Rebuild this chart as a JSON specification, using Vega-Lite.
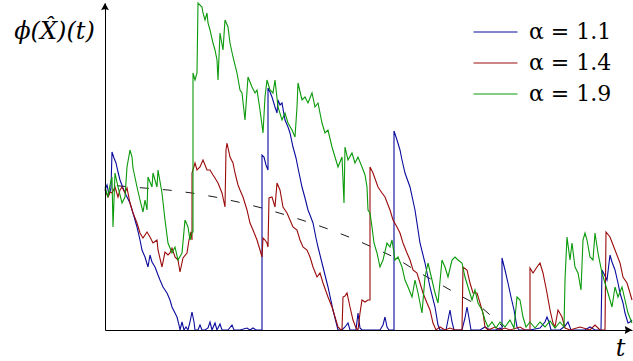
{
  "$schema": "https://vega.github.io/schema/vega-lite/v6.json",
  "width": 527,
  "height": 327,
  "autosize": {"type": "none"},
  "padding": {"left": 105, "top": 3, "right": 1, "bottom": 31},
  "background": "white",
  "config": {"view": {"stroke": null}},
  "datasets": {
    "paths": [
      {"alpha":"1.1","t":0,"v":140},{"alpha":"1.1","t":2,"v":145},{"alpha":"1.1","t":4,"v":135},{"alpha":"1.1","t":6,"v":142},{"alpha":"1.1","t":7,"v":178},{"alpha":"1.1","t":9,"v":172},{"alpha":"1.1","t":11,"v":167},{"alpha":"1.1","t":13,"v":158},{"alpha":"1.1","t":15,"v":150},{"alpha":"1.1","t":18,"v":142},{"alpha":"1.1","t":21,"v":135},{"alpha":"1.1","t":25,"v":127},{"alpha":"1.1","t":28,"v":117},{"alpha":"1.1","t":32,"v":103},{"alpha":"1.1","t":35,"v":90},{"alpha":"1.1","t":37,"v":80},{"alpha":"1.1","t":40,"v":73},{"alpha":"1.1","t":43,"v":63},{"alpha":"1.1","t":45,"v":75},{"alpha":"1.1","t":47,"v":68},{"alpha":"1.1","t":50,"v":63},{"alpha":"1.1","t":53,"v":55},{"alpha":"1.1","t":55,"v":50},{"alpha":"1.1","t":58,"v":43},{"alpha":"1.1","t":62,"v":37},{"alpha":"1.1","t":65,"v":30},{"alpha":"1.1","t":67,"v":23},{"alpha":"1.1","t":70,"v":17},{"alpha":"1.1","t":72,"v":13},{"alpha":"1.1","t":74,"v":5},{"alpha":"1.1","t":75,"v":0},{"alpha":"1.1","t":77,"v":8},{"alpha":"1.1","t":79,"v":0},{"alpha":"1.1","t":81,"v":3},{"alpha":"1.1","t":83,"v":0},{"alpha":"1.1","t":85,"v":8},{"alpha":"1.1","t":87,"v":18},{"alpha":"1.1","t":89,"v":8},{"alpha":"1.1","t":90,"v":0},{"alpha":"1.1","t":93,"v":0},{"alpha":"1.1","t":95,"v":5},{"alpha":"1.1","t":97,"v":0},{"alpha":"1.1","t":100,"v":0},{"alpha":"1.1","t":103,"v":2},{"alpha":"1.1","t":105,"v":8},{"alpha":"1.1","t":107,"v":0},{"alpha":"1.1","t":110,"v":7},{"alpha":"1.1","t":112,"v":0},{"alpha":"1.1","t":115,"v":6},{"alpha":"1.1","t":117,"v":0},{"alpha":"1.1","t":123,"v":0},{"alpha":"1.1","t":127,"v":5},{"alpha":"1.1","t":129,"v":0},{"alpha":"1.1","t":135,"v":0},{"alpha":"1.1","t":142,"v":2},{"alpha":"1.1","t":145,"v":0},{"alpha":"1.1","t":148,"v":2},{"alpha":"1.1","t":151,"v":0},{"alpha":"1.1","t":157,"v":0},{"alpha":"1.1","t":157,"v":175},{"alpha":"1.1","t":159,"v":173},{"alpha":"1.1","t":161,"v":165},{"alpha":"1.1","t":163,"v":160},{"alpha":"1.1","t":163,"v":242},{"alpha":"1.1","t":165,"v":238},{"alpha":"1.1","t":167,"v":233},{"alpha":"1.1","t":170,"v":223},{"alpha":"1.1","t":172,"v":217},{"alpha":"1.1","t":173,"v":230},{"alpha":"1.1","t":175,"v":225},{"alpha":"1.1","t":177,"v":227},{"alpha":"1.1","t":180,"v":210},{"alpha":"1.1","t":183,"v":203},{"alpha":"1.1","t":185,"v":197},{"alpha":"1.1","t":188,"v":183},{"alpha":"1.1","t":191,"v":172},{"alpha":"1.1","t":193,"v":162},{"alpha":"1.1","t":197,"v":143},{"alpha":"1.1","t":200,"v":132},{"alpha":"1.1","t":203,"v":120},{"alpha":"1.1","t":205,"v":115},{"alpha":"1.1","t":208,"v":107},{"alpha":"1.1","t":211,"v":92},{"alpha":"1.1","t":213,"v":83},{"alpha":"1.1","t":218,"v":63},{"alpha":"1.1","t":223,"v":43},{"alpha":"1.1","t":228,"v":20},{"alpha":"1.1","t":231,"v":8},{"alpha":"1.1","t":233,"v":0},{"alpha":"1.1","t":237,"v":0},{"alpha":"1.1","t":240,"v":3},{"alpha":"1.1","t":243,"v":7},{"alpha":"1.1","t":245,"v":0},{"alpha":"1.1","t":251,"v":0},{"alpha":"1.1","t":253,"v":17},{"alpha":"1.1","t":255,"v":2},{"alpha":"1.1","t":257,"v":0},{"alpha":"1.1","t":275,"v":0},{"alpha":"1.1","t":278,"v":5},{"alpha":"1.1","t":280,"v":13},{"alpha":"1.1","t":282,"v":3},{"alpha":"1.1","t":284,"v":0},{"alpha":"1.1","t":289,"v":0},{"alpha":"1.1","t":289,"v":199},{"alpha":"1.1","t":292,"v":190},{"alpha":"1.1","t":295,"v":180},{"alpha":"1.1","t":297,"v":170},{"alpha":"1.1","t":300,"v":157},{"alpha":"1.1","t":305,"v":143},{"alpha":"1.1","t":310,"v":120},{"alpha":"1.1","t":315,"v":87},{"alpha":"1.1","t":320,"v":67},{"alpha":"1.1","t":325,"v":43},{"alpha":"1.1","t":330,"v":23},{"alpha":"1.1","t":333,"v":5},{"alpha":"1.1","t":335,"v":0},{"alpha":"1.1","t":341,"v":0},{"alpha":"1.1","t":343,"v":10},{"alpha":"1.1","t":345,"v":20},{"alpha":"1.1","t":347,"v":8},{"alpha":"1.1","t":349,"v":0},{"alpha":"1.1","t":357,"v":0},{"alpha":"1.1","t":360,"v":12},{"alpha":"1.1","t":362,"v":23},{"alpha":"1.1","t":364,"v":12},{"alpha":"1.1","t":366,"v":0},{"alpha":"1.1","t":375,"v":0},{"alpha":"1.1","t":380,"v":3},{"alpha":"1.1","t":385,"v":0},{"alpha":"1.1","t":391,"v":0},{"alpha":"1.1","t":395,"v":2},{"alpha":"1.1","t":397,"v":0},{"alpha":"1.1","t":397,"v":72},{"alpha":"1.1","t":400,"v":60},{"alpha":"1.1","t":403,"v":47},{"alpha":"1.1","t":406,"v":33},{"alpha":"1.1","t":409,"v":20},{"alpha":"1.1","t":412,"v":3},{"alpha":"1.1","t":414,"v":0},{"alpha":"1.1","t":425,"v":0},{"alpha":"1.1","t":435,"v":2},{"alpha":"1.1","t":440,"v":8},{"alpha":"1.1","t":442,"v":13},{"alpha":"1.1","t":444,"v":8},{"alpha":"1.1","t":446,"v":0},{"alpha":"1.1","t":455,"v":0},{"alpha":"1.1","t":460,"v":4},{"alpha":"1.1","t":463,"v":8},{"alpha":"1.1","t":466,"v":0},{"alpha":"1.1","t":480,"v":0},{"alpha":"1.1","t":485,"v":3},{"alpha":"1.1","t":490,"v":0},{"alpha":"1.1","t":496,"v":0},{"alpha":"1.1","t":497,"v":60},{"alpha":"1.1","t":500,"v":54},{"alpha":"1.1","t":502,"v":50},{"alpha":"1.1","t":505,"v":75},{"alpha":"1.1","t":507,"v":68},{"alpha":"1.1","t":510,"v":60},{"alpha":"1.1","t":513,"v":47},{"alpha":"1.1","t":515,"v":37},{"alpha":"1.1","t":518,"v":27},{"alpha":"1.1","t":520,"v":17},{"alpha":"1.1","t":523,"v":7},{"alpha":"1.1","t":525,"v":8},{"alpha":"1.1","t":527,"v":10},

      {"alpha":"1.4","t":0,"v":140},{"alpha":"1.4","t":3,"v":133},{"alpha":"1.4","t":5,"v":138},{"alpha":"1.4","t":7,"v":137},{"alpha":"1.4","t":10,"v":143},{"alpha":"1.4","t":13,"v":133},{"alpha":"1.4","t":15,"v":140},{"alpha":"1.4","t":17,"v":143},{"alpha":"1.4","t":20,"v":137},{"alpha":"1.4","t":22,"v":142},{"alpha":"1.4","t":25,"v":127},{"alpha":"1.4","t":28,"v":117},{"alpha":"1.4","t":32,"v":107},{"alpha":"1.4","t":35,"v":97},{"alpha":"1.4","t":38,"v":92},{"alpha":"1.4","t":42,"v":98},{"alpha":"1.4","t":45,"v":93},{"alpha":"1.4","t":48,"v":87},{"alpha":"1.4","t":52,"v":90},{"alpha":"1.4","t":53,"v":80},{"alpha":"1.4","t":57,"v":63},{"alpha":"1.4","t":60,"v":78},{"alpha":"1.4","t":63,"v":75},{"alpha":"1.4","t":65,"v":77},{"alpha":"1.4","t":67,"v":82},{"alpha":"1.4","t":70,"v":73},{"alpha":"1.4","t":73,"v":70},{"alpha":"1.4","t":75,"v":58},{"alpha":"1.4","t":78,"v":72},{"alpha":"1.4","t":82,"v":77},{"alpha":"1.4","t":84,"v":90},{"alpha":"1.4","t":86,"v":98},{"alpha":"1.4","t":87,"v":90},{"alpha":"1.4","t":87,"v":157},{"alpha":"1.4","t":90,"v":167},{"alpha":"1.4","t":92,"v":160},{"alpha":"1.4","t":95,"v":163},{"alpha":"1.4","t":98,"v":170},{"alpha":"1.4","t":100,"v":165},{"alpha":"1.4","t":102,"v":160},{"alpha":"1.4","t":105,"v":160},{"alpha":"1.4","t":108,"v":155},{"alpha":"1.4","t":110,"v":152},{"alpha":"1.4","t":113,"v":147},{"alpha":"1.4","t":117,"v":137},{"alpha":"1.4","t":120,"v":123},{"alpha":"1.4","t":121,"v":180},{"alpha":"1.4","t":122,"v":187},{"alpha":"1.4","t":125,"v":173},{"alpha":"1.4","t":128,"v":167},{"alpha":"1.4","t":130,"v":157},{"alpha":"1.4","t":133,"v":145},{"alpha":"1.4","t":135,"v":140},{"alpha":"1.4","t":138,"v":133},{"alpha":"1.4","t":142,"v":120},{"alpha":"1.4","t":145,"v":107},{"alpha":"1.4","t":148,"v":100},{"alpha":"1.4","t":152,"v":90},{"alpha":"1.4","t":155,"v":80},{"alpha":"1.4","t":157,"v":73},{"alpha":"1.4","t":158,"v":92},{"alpha":"1.4","t":160,"v":90},{"alpha":"1.4","t":162,"v":87},{"alpha":"1.4","t":163,"v":83},{"alpha":"1.4","t":164,"v":132},{"alpha":"1.4","t":167,"v":133},{"alpha":"1.4","t":170,"v":123},{"alpha":"1.4","t":172,"v":147},{"alpha":"1.4","t":175,"v":140},{"alpha":"1.4","t":178,"v":123},{"alpha":"1.4","t":182,"v":117},{"alpha":"1.4","t":185,"v":110},{"alpha":"1.4","t":188,"v":103},{"alpha":"1.4","t":192,"v":100},{"alpha":"1.4","t":195,"v":90},{"alpha":"1.4","t":198,"v":83},{"alpha":"1.4","t":202,"v":80},{"alpha":"1.4","t":205,"v":73},{"alpha":"1.4","t":208,"v":63},{"alpha":"1.4","t":212,"v":53},{"alpha":"1.4","t":215,"v":57},{"alpha":"1.4","t":218,"v":47},{"alpha":"1.4","t":223,"v":33},{"alpha":"1.4","t":227,"v":23},{"alpha":"1.4","t":230,"v":13},{"alpha":"1.4","t":233,"v":3},{"alpha":"1.4","t":236,"v":0},{"alpha":"1.4","t":237,"v":0},{"alpha":"1.4","t":238,"v":33},{"alpha":"1.4","t":240,"v":34},{"alpha":"1.4","t":242,"v":37},{"alpha":"1.4","t":245,"v":23},{"alpha":"1.4","t":248,"v":10},{"alpha":"1.4","t":251,"v":2},{"alpha":"1.4","t":253,"v":0},{"alpha":"1.4","t":255,"v":17},{"alpha":"1.4","t":257,"v":30},{"alpha":"1.4","t":260,"v":28},{"alpha":"1.4","t":263,"v":30},{"alpha":"1.4","t":265,"v":30},{"alpha":"1.4","t":265,"v":163},{"alpha":"1.4","t":268,"v":157},{"alpha":"1.4","t":273,"v":143},{"alpha":"1.4","t":277,"v":137},{"alpha":"1.4","t":280,"v":133},{"alpha":"1.4","t":285,"v":120},{"alpha":"1.4","t":288,"v":110},{"alpha":"1.4","t":292,"v":103},{"alpha":"1.4","t":295,"v":97},{"alpha":"1.4","t":298,"v":87},{"alpha":"1.4","t":302,"v":77},{"alpha":"1.4","t":305,"v":70},{"alpha":"1.4","t":308,"v":60},{"alpha":"1.4","t":312,"v":57},{"alpha":"1.4","t":315,"v":47},{"alpha":"1.4","t":318,"v":37},{"alpha":"1.4","t":322,"v":27},{"alpha":"1.4","t":325,"v":20},{"alpha":"1.4","t":328,"v":7},{"alpha":"1.4","t":331,"v":0},{"alpha":"1.4","t":335,"v":3},{"alpha":"1.4","t":340,"v":0},{"alpha":"1.4","t":345,"v":2},{"alpha":"1.4","t":350,"v":0},{"alpha":"1.4","t":357,"v":0},{"alpha":"1.4","t":358,"v":63},{"alpha":"1.4","t":362,"v":60},{"alpha":"1.4","t":365,"v":47},{"alpha":"1.4","t":368,"v":37},{"alpha":"1.4","t":372,"v":37},{"alpha":"1.4","t":375,"v":27},{"alpha":"1.4","t":378,"v":17},{"alpha":"1.4","t":380,"v":3},{"alpha":"1.4","t":383,"v":0},{"alpha":"1.4","t":390,"v":3},{"alpha":"1.4","t":395,"v":0},{"alpha":"1.4","t":400,"v":2},{"alpha":"1.4","t":405,"v":0},{"alpha":"1.4","t":415,"v":3},{"alpha":"1.4","t":420,"v":0},{"alpha":"1.4","t":425,"v":0},{"alpha":"1.4","t":425,"v":62},{"alpha":"1.4","t":428,"v":57},{"alpha":"1.4","t":432,"v":63},{"alpha":"1.4","t":435,"v":67},{"alpha":"1.4","t":438,"v":57},{"alpha":"1.4","t":442,"v":37},{"alpha":"1.4","t":445,"v":20},{"alpha":"1.4","t":448,"v":7},{"alpha":"1.4","t":450,"v":3},{"alpha":"1.4","t":453,"v":20},{"alpha":"1.4","t":457,"v":13},{"alpha":"1.4","t":460,"v":2},{"alpha":"1.4","t":465,"v":0},{"alpha":"1.4","t":475,"v":3},{"alpha":"1.4","t":485,"v":0},{"alpha":"1.4","t":490,"v":5},{"alpha":"1.4","t":495,"v":0},{"alpha":"1.4","t":500,"v":0},{"alpha":"1.4","t":501,"v":98},{"alpha":"1.4","t":505,"v":93},{"alpha":"1.4","t":510,"v":80},{"alpha":"1.4","t":515,"v":67},{"alpha":"1.4","t":518,"v":53},{"alpha":"1.4","t":522,"v":47},{"alpha":"1.4","t":525,"v":37},{"alpha":"1.4","t":527,"v":30},

      {"alpha":"1.9","t":0,"v":143},{"alpha":"1.9","t":3,"v":133},{"alpha":"1.9","t":5,"v":145},{"alpha":"1.9","t":7,"v":153},{"alpha":"1.9","t":8,"v":103},{"alpha":"1.9","t":10,"v":157},{"alpha":"1.9","t":13,"v":143},{"alpha":"1.9","t":17,"v":127},{"alpha":"1.9","t":20,"v":133},{"alpha":"1.9","t":22,"v":163},{"alpha":"1.9","t":25,"v":180},{"alpha":"1.9","t":27,"v":173},{"alpha":"1.9","t":28,"v":162},{"alpha":"1.9","t":32,"v":143},{"alpha":"1.9","t":35,"v":130},{"alpha":"1.9","t":38,"v":118},{"alpha":"1.9","t":40,"v":130},{"alpha":"1.9","t":42,"v":120},{"alpha":"1.9","t":43,"v":153},{"alpha":"1.9","t":47,"v":143},{"alpha":"1.9","t":48,"v":157},{"alpha":"1.9","t":52,"v":143},{"alpha":"1.9","t":53,"v":160},{"alpha":"1.9","t":57,"v":137},{"alpha":"1.9","t":60,"v":110},{"alpha":"1.9","t":63,"v":87},{"alpha":"1.9","t":67,"v":77},{"alpha":"1.9","t":70,"v":83},{"alpha":"1.9","t":73,"v":70},{"alpha":"1.9","t":77,"v":77},{"alpha":"1.9","t":80,"v":110},{"alpha":"1.9","t":83,"v":103},{"alpha":"1.9","t":85,"v":90},{"alpha":"1.9","t":87,"v":98},{"alpha":"1.9","t":88,"v":98},{"alpha":"1.9","t":88,"v":257},{"alpha":"1.9","t":90,"v":250},{"alpha":"1.9","t":92,"v":257},{"alpha":"1.9","t":93,"v":327},{"alpha":"1.9","t":97,"v":323},{"alpha":"1.9","t":98,"v":317},{"alpha":"1.9","t":100,"v":310},{"alpha":"1.9","t":102,"v":317},{"alpha":"1.9","t":103,"v":307},{"alpha":"1.9","t":105,"v":300},{"alpha":"1.9","t":108,"v":287},{"alpha":"1.9","t":110,"v":280},{"alpha":"1.9","t":112,"v":270},{"alpha":"1.9","t":113,"v":250},{"alpha":"1.9","t":115,"v":297},{"alpha":"1.9","t":118,"v":280},{"alpha":"1.9","t":120,"v":310},{"alpha":"1.9","t":123,"v":303},{"alpha":"1.9","t":125,"v":287},{"alpha":"1.9","t":128,"v":273},{"alpha":"1.9","t":132,"v":257},{"alpha":"1.9","t":135,"v":240},{"alpha":"1.9","t":137,"v":237},{"alpha":"1.9","t":140,"v":210},{"alpha":"1.9","t":143,"v":253},{"alpha":"1.9","t":147,"v":243},{"alpha":"1.9","t":150,"v":237},{"alpha":"1.9","t":152,"v":240},{"alpha":"1.9","t":155,"v":220},{"alpha":"1.9","t":158,"v":197},{"alpha":"1.9","t":160,"v":233},{"alpha":"1.9","t":162,"v":250},{"alpha":"1.9","t":165,"v":240},{"alpha":"1.9","t":168,"v":237},{"alpha":"1.9","t":170,"v":250},{"alpha":"1.9","t":173,"v":223},{"alpha":"1.9","t":177,"v":210},{"alpha":"1.9","t":180,"v":217},{"alpha":"1.9","t":183,"v":207},{"alpha":"1.9","t":187,"v":200},{"alpha":"1.9","t":190,"v":193},{"alpha":"1.9","t":192,"v":223},{"alpha":"1.9","t":193,"v":247},{"alpha":"1.9","t":197,"v":230},{"alpha":"1.9","t":200,"v":233},{"alpha":"1.9","t":203,"v":227},{"alpha":"1.9","t":207,"v":237},{"alpha":"1.9","t":210,"v":223},{"alpha":"1.9","t":213,"v":227},{"alpha":"1.9","t":217,"v":207},{"alpha":"1.9","t":220,"v":197},{"alpha":"1.9","t":223,"v":200},{"alpha":"1.9","t":227,"v":183},{"alpha":"1.9","t":230,"v":173},{"alpha":"1.9","t":233,"v":163},{"alpha":"1.9","t":237,"v":173},{"alpha":"1.9","t":239,"v":127},{"alpha":"1.9","t":240,"v":183},{"alpha":"1.9","t":243,"v":170},{"alpha":"1.9","t":247,"v":177},{"alpha":"1.9","t":250,"v":167},{"alpha":"1.9","t":253,"v":173},{"alpha":"1.9","t":257,"v":163},{"alpha":"1.9","t":260,"v":155},{"alpha":"1.9","t":262,"v":143},{"alpha":"1.9","t":263,"v":120},{"alpha":"1.9","t":265,"v":117},{"alpha":"1.9","t":267,"v":103},{"alpha":"1.9","t":269,"v":87},{"alpha":"1.9","t":272,"v":77},{"alpha":"1.9","t":275,"v":63},{"alpha":"1.9","t":278,"v":70},{"alpha":"1.9","t":282,"v":87},{"alpha":"1.9","t":285,"v":83},{"alpha":"1.9","t":287,"v":90},{"alpha":"1.9","t":290,"v":70},{"alpha":"1.9","t":293,"v":73},{"alpha":"1.9","t":297,"v":63},{"alpha":"1.9","t":300,"v":50},{"alpha":"1.9","t":303,"v":43},{"alpha":"1.9","t":307,"v":33},{"alpha":"1.9","t":310,"v":50},{"alpha":"1.9","t":313,"v":37},{"alpha":"1.9","t":317,"v":17},{"alpha":"1.9","t":320,"v":53},{"alpha":"1.9","t":323,"v":67},{"alpha":"1.9","t":327,"v":50},{"alpha":"1.9","t":330,"v":37},{"alpha":"1.9","t":333,"v":27},{"alpha":"1.9","t":337,"v":70},{"alpha":"1.9","t":340,"v":63},{"alpha":"1.9","t":343,"v":53},{"alpha":"1.9","t":347,"v":70},{"alpha":"1.9","t":350,"v":73},{"alpha":"1.9","t":353,"v":70},{"alpha":"1.9","t":357,"v":67},{"alpha":"1.9","t":360,"v":53},{"alpha":"1.9","t":363,"v":43},{"alpha":"1.9","t":367,"v":30},{"alpha":"1.9","t":370,"v":40},{"alpha":"1.9","t":373,"v":27},{"alpha":"1.9","t":377,"v":20},{"alpha":"1.9","t":380,"v":10},{"alpha":"1.9","t":383,"v":3},{"alpha":"1.9","t":387,"v":8},{"alpha":"1.9","t":391,"v":2},{"alpha":"1.9","t":395,"v":8},{"alpha":"1.9","t":400,"v":3},{"alpha":"1.9","t":405,"v":10},{"alpha":"1.9","t":409,"v":2},{"alpha":"1.9","t":412,"v":33},{"alpha":"1.9","t":415,"v":30},{"alpha":"1.9","t":418,"v":13},{"alpha":"1.9","t":421,"v":3},{"alpha":"1.9","t":425,"v":8},{"alpha":"1.9","t":430,"v":2},{"alpha":"1.9","t":435,"v":8},{"alpha":"1.9","t":440,"v":3},{"alpha":"1.9","t":445,"v":9},{"alpha":"1.9","t":450,"v":2},{"alpha":"1.9","t":455,"v":8},{"alpha":"1.9","t":459,"v":3},{"alpha":"1.9","t":460,"v":50},{"alpha":"1.9","t":462,"v":93},{"alpha":"1.9","t":465,"v":70},{"alpha":"1.9","t":467,"v":87},{"alpha":"1.9","t":470,"v":63},{"alpha":"1.9","t":473,"v":57},{"alpha":"1.9","t":476,"v":40},{"alpha":"1.9","t":478,"v":90},{"alpha":"1.9","t":480,"v":97},{"alpha":"1.9","t":482,"v":90},{"alpha":"1.9","t":485,"v":73},{"alpha":"1.9","t":488,"v":70},{"alpha":"1.9","t":490,"v":97},{"alpha":"1.9","t":493,"v":77},{"alpha":"1.9","t":497,"v":57},{"alpha":"1.9","t":500,"v":47},{"alpha":"1.9","t":503,"v":37},{"alpha":"1.9","t":507,"v":23},{"alpha":"1.9","t":510,"v":43},{"alpha":"1.9","t":513,"v":33},{"alpha":"1.9","t":517,"v":43},{"alpha":"1.9","t":520,"v":30},{"alpha":"1.9","t":523,"v":17},{"alpha":"1.9","t":527,"v":7}
    ],
    "mean": [
      {"t":0,"v":146},{"t":15,"v":144},{"t":39,"v":142},{"t":63,"v":140},{"t":87,"v":137},{"t":110,"v":133},{"t":133,"v":128},{"t":157,"v":122},{"t":181,"v":115},{"t":203,"v":108},{"t":226,"v":100},{"t":249,"v":91},{"t":269,"v":82},{"t":291,"v":72},{"t":313,"v":58},{"t":333,"v":47},{"t":354,"v":35},{"t":376,"v":23},{"t":392,"v":9},{"t":398,"v":3}
    ]
  },
  "encoding": {
    "x": {
      "field": "t", "type": "quantitative",
      "scale": {"domain": [0, 527], "nice": false, "zero": false},
      "axis": {
        "title": "t", "domain": true, "domainColor": "black", "domainWidth": 1,
        "ticks": false, "labels": false, "grid": false, "zindex": 1,
        "titleFont": "DejaVu Serif", "titleFontStyle": "italic", "titleFontWeight": "normal",
        "titleFontSize": 24, "titleColor": "black",
        "titleX": 515, "titleY": 25, "titleAlign": "center", "titleBaseline": "alphabetic"
      }
    },
    "y": {
      "field": "v", "type": "quantitative",
      "scale": {"domain": [0, 327], "nice": false, "zero": false},
      "axis": {
        "title": "ϕ(X̂)(t)", "domain": true, "domainColor": "black", "domainWidth": 1,
        "ticks": false, "labels": false, "grid": false, "zindex": 1,
        "titleFont": "DejaVu Serif", "titleFontStyle": "italic", "titleFontWeight": "normal",
        "titleFontSize": 24, "titleColor": "black", "titleAngle": 0,
        "titleX": -51, "titleY": 35, "titleAlign": "center", "titleBaseline": "alphabetic"
      }
    }
  },
  "layer": [
    {
      "data": {"name": "mean"},
      "mark": {"type": "line", "color": "black", "strokeWidth": 0.9, "strokeDash": [9, 14], "strokeDashOffset": 11}
    },
    {
      "data": {"name": "paths"},
      "mark": {"type": "line", "strokeWidth": 1.1},
      "encoding": {
        "order": {"value": null},
        "color": {
          "field": "alpha", "type": "nominal",
          "scale": {"domain": ["1.1", "1.4", "1.9"], "range": ["#0a0a9e", "#9b0a0a", "#0a9a0a"]},
          "legend": {
            "orient": "none", "legendX": 396, "legendY": 18, "title": null, "padding": 0,
            "symbolType": "M-7,0L1,0", "symbolSize": 121, "symbolStrokeWidth": 1,
            "labelFont": "DejaVu Serif", "labelFontSize": 22, "labelColor": "black",
            "labelOffset": 6, "rowPadding": 9,
            "labelExpr": "'α = ' + datum.label"
          }
        }
      }
    },
    {
      "data": {"values": [{"t": 527, "v": 0}]},
      "mark": {"type": "point", "shape": "M0,0L-2,-1.1Q-1.5,0,-2,1.1Z", "size": 52, "filled": true, "color": "black", "opacity": 1, "strokeWidth": 0}
    },
    {
      "data": {"values": [{"t": 0, "v": 327}]},
      "mark": {"type": "point", "shape": "M0,0L-2,-1.1Q-1.5,0,-2,1.1Z", "size": 52, "angle": -90, "filled": true, "color": "black", "opacity": 1, "strokeWidth": 0}
    }
  ]
}
